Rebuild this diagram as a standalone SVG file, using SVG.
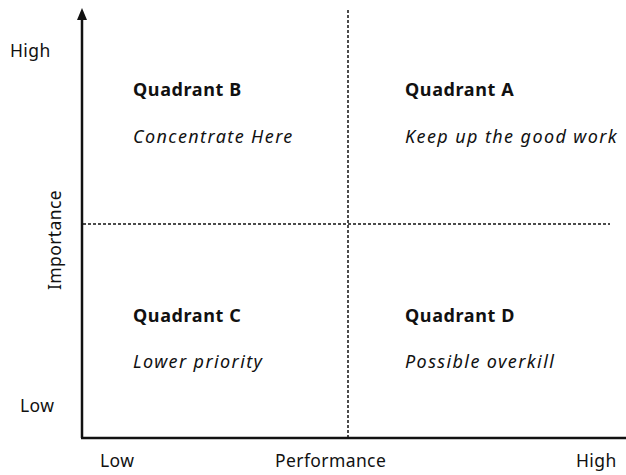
<svg xmlns="http://www.w3.org/2000/svg" width="626" height="475" viewBox="0 0 626 475">
<style>
text{font-family:"Noto Sans","Open Sans","DejaVu Sans",sans-serif;fill:#111}
.ax{font-size:17.5px;letter-spacing:0.4px}
.t{font-size:18px;font-weight:bold;letter-spacing:0.6px}
.s{font-size:18px;font-style:italic;letter-spacing:1.4px}
.dash{stroke:#111;stroke-width:1.5;stroke-dasharray:3,2;fill:none}
</style>
<rect width="626" height="475" fill="#fff"/>
<g id="connectors">
<path d="M82,438 L82,18" stroke="#111" stroke-width="2.5" fill="none"/>
<polygon points="82,8 77,20 87,20" fill="#111"/>
<path d="M81,438 L626,438" stroke="#111" stroke-width="2.5" fill="none"/>
<path class="dash" d="M348,10 L348,438"/>
<path class="dash" d="M83,224 L610,224"/>
</g>
<g id="axis-labels">
<text class="ax" x="10" y="57">High</text>
<text class="ax" x="20" y="412">Low</text>
<text class="ax" x="100" y="467">Low</text>
<text class="ax" x="275" y="467">Performance</text>
<text class="ax" x="576" y="467">High</text>
<text class="ax" transform="translate(61,240) rotate(-90)" text-anchor="middle">Importance</text>
</g>
<g id="quadrant-b">
<text class="t" x="133" y="96">Quadrant B</text>
<text class="s" x="133" y="143">Concentrate Here</text>
</g>
<g id="quadrant-a">
<text class="t" x="405" y="96">Quadrant A</text>
<text class="s" x="405" y="143">Keep up the good work</text>
</g>
<g id="quadrant-c">
<text class="t" x="133" y="322">Quadrant C</text>
<text class="s" x="133" y="368">Lower priority</text>
</g>
<g id="quadrant-d">
<text class="t" x="405" y="322">Quadrant D</text>
<text class="s" x="405" y="368">Possible overkill</text>
</g>
</svg>
